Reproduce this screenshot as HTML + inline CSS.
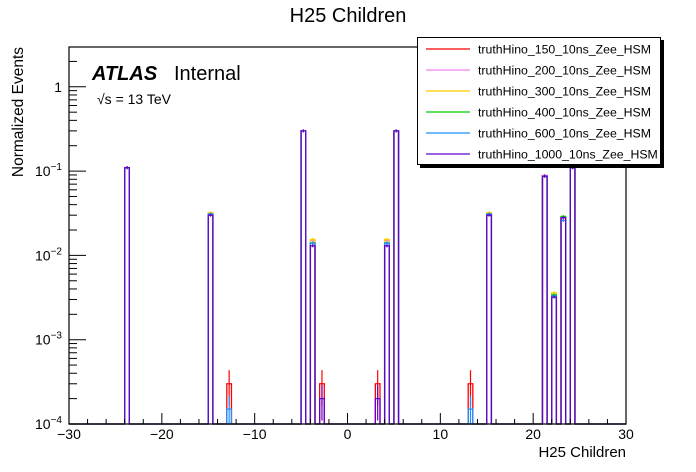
<!DOCTYPE html>
<html><head><meta charset="utf-8"><style>
html,body{margin:0;padding:0;background:#fff;}
svg{display:block;font-family:"Liberation Sans",Arial,sans-serif;}
</style></head><body>
<svg id="chart" width="696" height="472" viewBox="0 0 696 472">
<rect x="0" y="0" width="696" height="472" fill="#fff"/>
<text x="348" y="22" font-size="20" text-anchor="middle">H25 Children</text>
<g id="marks"></g>
<g id="axes"></g>
<text x="92" y="80" font-size="20" font-weight="bold" font-style="italic">ATLAS</text>
<text x="174" y="80" font-size="20">Internal</text>
<text x="97" y="104" font-size="14">√s = 13 TeV</text>
<text transform="translate(23,47) rotate(-90)" font-size="15.5" text-anchor="end">Normalized Events</text>
<text x="626" y="457" font-size="15" text-anchor="end">H25 Children</text>
<g id="legend"></g>
</svg>
<script>
const binLow = [-24,-15,-13,-5,-4,-3,3,4,5,13,15,21,22,23,24];
const binWidth = 0.5;
const seriesNames = ["truthHino_150_10ns_Zee_HSM","truthHino_200_10ns_Zee_HSM","truthHino_300_10ns_Zee_HSM","truthHino_400_10ns_Zee_HSM","truthHino_600_10ns_Zee_HSM","truthHino_1000_10ns_Zee_HSM"];
const seriesColors = ["#ff0000","#ee82ee","#ffcc00","#00cc00","#1e90ff","#6600cc"];
const v150  = [0.11,0.031,3e-4,0.30,0.014,3e-4,3e-4,0.014,0.30,3e-4,0.031,0.088,0.0034,0.028,0.11];
const v200  = [0.11,0.031,0,0.30,0.015,0,0,0.015,0.30,0,0.031,0.089,0.0034,0.028,0.11];
const v300  = [0.11,0.032,0,0.30,0.0155,0,0,0.0155,0.30,0,0.032,0.086,0.0036,0.028,0.11];
const v400  = [0.11,0.031,0,0.30,0.014,0,0,0.014,0.30,0,0.031,0.087,0.0034,0.029,0.11];
const v600  = [0.11,0.031,1.5e-4,0.30,0.014,0,0,0.014,0.30,1.5e-4,0.031,0.087,0.0033,0.026,0.11];
const v1000 = [0.11,0.030,0,0.30,0.013,2e-4,2e-4,0.013,0.30,0,0.030,0.087,0.0032,0.028,0.11];
const seriesValues = [v150,v200,v300,v400,v600,v1000];
const xTicks = [-30,-20,-10,0,10,20,30];
const yDecades = [-4,-3,-2,-1,0];

const NS="http://www.w3.org/2000/svg";
const L=69, R=626, T=47, B=424;
const xMin=-30, xMax=30, yMinLog=-4, decadePx=84.3;
function X(v){return L+(v-xMin)/(xMax-xMin)*(R-L);}
function Y(v){ if(v<=0) return B; let y=B-(Math.log10(v)-yMinLog)*decadePx; return Math.max(T,Math.min(B,y)); }
function mk(tag,attrs,parent){const e=document.createElementNS(NS,tag);for(const k in attrs)e.setAttribute(k,attrs[k]);parent.appendChild(e);return e;}

const marks=document.getElementById('marks');
seriesValues.forEach((vals,si)=>{
  let d="M"+X(xMin)+","+B;
  binLow.forEach((lo,i)=>{
    const y=Y(vals[i]);
    d+=" L"+X(lo)+","+B+" L"+X(lo)+","+y+" L"+X(lo+binWidth)+","+y+" L"+X(lo+binWidth)+","+B;
  });
  d+=" L"+X(xMax)+","+B;
  const p=mk('path',{d:d,fill:"none",stroke:seriesColors[si],"stroke-width":1.3},marks);
  
  
  binLow.forEach((lo,i)=>{
    const v=vals[i]; if(v<=0) return;
    const err=v<0.001?0.45:0.04;
    const cx=X(lo+binWidth/2);
    const eb=mk('line',{x1:cx,x2:cx,y1:Y(v*(1+err)),y2:Y(v*(1-err)),stroke:seriesColors[si],"stroke-width":1.2},marks);
    
    
  });
});

const axes=document.getElementById('axes');
const fr=mk('rect',{x:L,y:T,width:R-L,height:B-T,fill:"none",stroke:"#000","stroke-width":1.2},axes);


for(let v=xMin; v<=xMax; v+=2){
  const major=(v%10===0);
  const t=mk('line',{x1:X(v),x2:X(v),y1:B,y2:B-(major?11:5),stroke:"#000","stroke-width":1},axes);
  
  
}
xTicks.forEach(v=>{
  const t=mk('text',{x:X(v),y:439,"font-size":14,"text-anchor":"middle"},axes);
  t.textContent=(v<0?"\u2212"+(-v):String(v));
  
  
});
yDecades.forEach(dk=>{
  const y=B-(dk-yMinLog)*decadePx;
  const t=mk('line',{x1:L,x2:L+17,y1:y,y2:y,stroke:"#000","stroke-width":1},axes);
  
  
  for(let m=2;m<=9;m++){
    const yy=B-(dk+Math.log10(m)-yMinLog)*decadePx;
    if(yy<T) break;
    const mt=mk('line',{x1:L,x2:L+8,y1:yy,y2:yy,stroke:"#000","stroke-width":1},axes);
    
    
  }
  const lab=mk('text',{x:62,y:y+5,"font-size":14,"text-anchor":"end"},axes);
  
  
  if(dk===0){lab.textContent="1";}
  else{
    lab.textContent="10";
    const s=mk('tspan',{dy:-6,"font-size":10},lab);
    s.textContent="\u2212"+(-dk);
  }
});

const lg=document.getElementById('legend');
mk('rect',{x:420,y:40,width:244,height:128,fill:"#000"},lg);
mk('rect',{x:417.5,y:37.5,width:243,height:127,fill:"#fff",stroke:"#000","stroke-width":1},lg);
seriesNames.forEach((n,i)=>{
  const y=49+i*21;
  const ln=mk('line',{x1:426,x2:470,y1:y,y2:y,stroke:seriesColors[i],"stroke-width":1.3},lg);
  
  
  const t=mk('text',{x:478,y:y+4.5,"font-size":12.3},lg);
  t.textContent=n;
  
  
});
</script>
</body></html>
